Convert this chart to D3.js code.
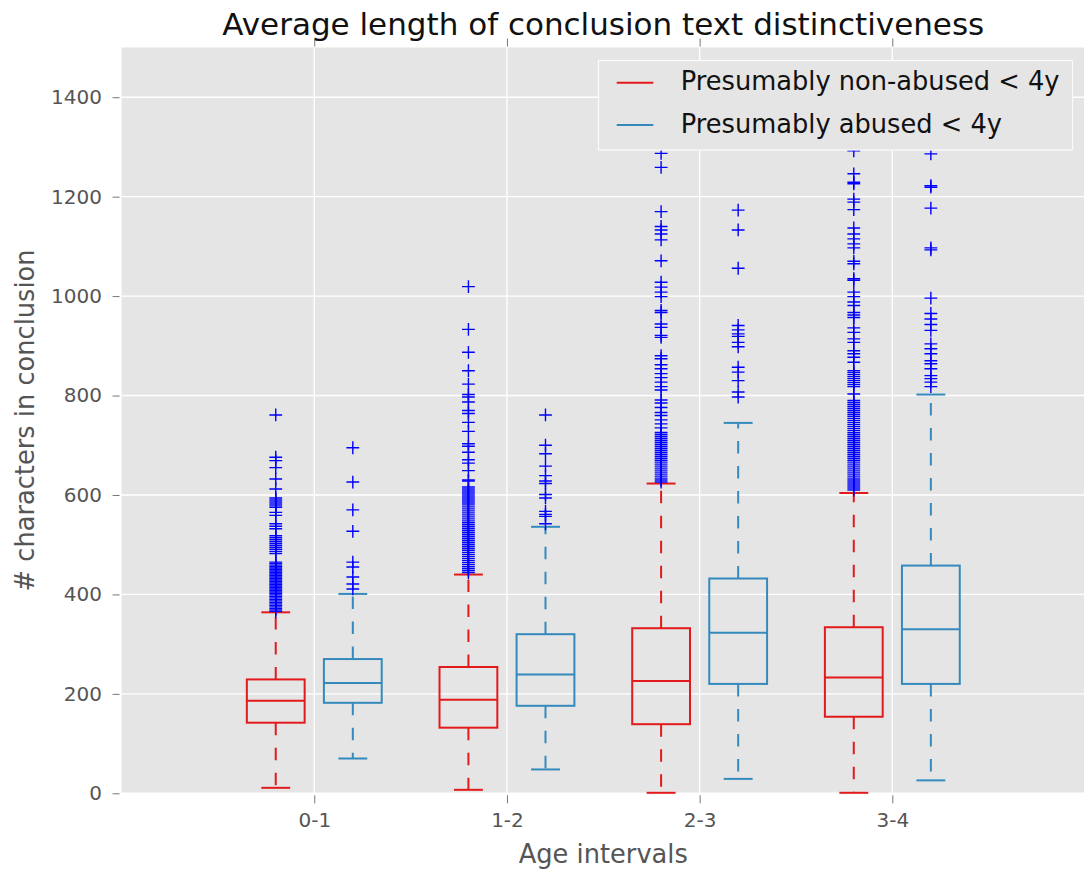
<!DOCTYPE html>
<html>
<head>
<meta charset="utf-8">
<script src="https://cdn.jsdelivr.net/npm/d3@7"></script>
<style>
    body { margin: 0; background: #fff; }
    svg text { font-family: "DejaVu Sans", sans-serif; }
</style>
</head>
<body>
<div id="chart"></div>
<script>

// Chart data
const categories = ["0-1", "1-2", "2-3", "3-4"];
const seriesNames = ["Presumably non-abused < 4y", "Presumably abused < 4y"];
const yTicks = [0, 200, 400, 600, 800, 1000, 1200, 1400];

// [lower whisker, Q1, median, Q3, upper whisker] per age interval
const nonAbusedBoxes = [
    [11, 142, 186, 229, 364],
    [7, 132, 188, 254, 440],
    [1, 139, 226, 332, 623],
    [1, 154, 233, 334, 604]
];
const abusedBoxes = [
    [70, 182, 222, 270, 401],
    [48, 176, 239, 320, 536],
    [29, 220, 323, 432, 745],
    [26, 220, 330, 458, 802]
];

// outliers
const nonAbusedFliers = [
    [761, 676, 669, 655, 632, 612, 594, 590, 586, 582, 578, 575, 565, 559, 542, 537, 532, 518, 514, 510,
        506, 502, 498, 494, 490, 486, 482, 465, 462, 459, 456, 453, 450, 447, 444, 441, 438, 435, 432, 429,
        426, 423, 420, 417, 414, 411, 408, 405, 402, 399, 396, 393, 390, 387, 384, 381, 378, 375, 372, 369, 366],
    [1019, 933, 887, 850, 823, 802, 797, 787, 770, 764, 746, 728, 703, 698, 686, 671, 664, 649, 630, 628,
        616, 612, 608, 604, 600, 596, 592, 588, 584, 580, 576, 572, 568, 564, 560, 556, 552, 548, 544, 540,
        536, 532, 528, 524, 520, 516, 512, 508, 504, 500, 496, 492, 488, 484, 480, 476, 472, 468, 464, 460,
        456, 452, 448, 444],
    [1287, 1259, 1170, 1140, 1133, 1125, 1113, 1071, 1028, 1018, 1008, 999, 971, 967, 944, 937, 921, 917,
        880, 874, 862, 854, 844, 836, 827, 818, 811, 791, 785, 776, 766, 760, 751, 743, 735, 726, 722, 718,
        714, 710, 706, 702, 698, 694, 690, 686, 682, 678, 674, 670, 666, 662, 658, 654, 650, 646, 642, 638,
        634, 630, 626],
    [1292, 1246, 1229, 1226, 1195, 1189, 1174, 1137, 1125, 1115, 1105, 1097, 1070, 1065, 1035, 1032, 1008,
        999, 988, 981, 967, 962, 957, 936, 927, 914, 907, 890, 884, 877, 867, 850, 846, 842, 838, 834, 830,
        826, 822, 818, 803, 790, 786, 782, 778, 774, 770, 766, 762, 758, 754, 750, 746, 742, 738, 734, 730,
        726, 722, 718, 714, 710, 706, 702, 698, 694, 690, 686, 682, 678, 674, 670, 666, 662, 658, 654, 650,
        646, 642, 638, 634, 630, 626, 622, 618, 614, 610]
];
const abusedFliers = [
    [695, 626, 570, 527, 465, 455, 435, 421, 411],
    [761, 700, 683, 658, 639, 628, 623, 601, 594, 567, 561, 557, 542],
    [1173, 1133, 1056, 941, 932, 924, 919, 907, 898, 857, 847, 830, 807, 797],
    [1286, 1222, 1219, 1177, 1097, 1093, 996, 965, 954, 943, 931, 904, 894, 884, 870, 864, 854, 840, 834,
        827, 818]
];

const seriesColors = ["#e31a1c", "#348abd"];


class BoxChart {

    constructor(_parentElement) {
        this.parentElement = _parentElement;
        this.initVis();
    }

    initVis() {
        let vis = this;

        vis.margin = { top: 47.5, right: -1, bottom: 75.7, left: 121.6 };
        vis.width = 1084 - vis.margin.left - vis.margin.right;
        vis.height = 869 - vis.margin.top - vis.margin.bottom;

        vis.root = d3.select("#" + vis.parentElement).append("svg")
            .attr("width", 1084)
            .attr("height", 869);

        vis.svg = vis.root.append("g")
            .attr("transform", "translate(" + vis.margin.left + "," + vis.margin.top + ")");

        // Scales: categories sit at 1..4, boxes at +/-0.2
        vis.x = d3.scaleLinear().domain([0, categories.length + 1]).range([0, vis.width]);
        vis.y = d3.scaleLinear().domain([0, 1500]).range([vis.height, 0]);

        // grey panel + white grid (ggplot look)
        vis.svg.append("rect")
            .attr("width", vis.width)
            .attr("height", vis.height)
            .attr("fill", "#e5e5e5");

        vis.svg.append("g").selectAll("line.hgrid")
            .data(yTicks)
            .join("line")
            .attr("x1", 0).attr("x2", vis.width)
            .attr("y1", d => vis.y(d)).attr("y2", d => vis.y(d))
            .attr("stroke", "#fff").attr("stroke-width", 1.4);

        vis.svg.append("g").selectAll("line.vgrid")
            .data(categories)
            .join("line")
            .attr("x1", (d, i) => vis.x(i + 1)).attr("x2", (d, i) => vis.x(i + 1))
            .attr("y1", 0).attr("y2", vis.height)
            .attr("stroke", "#fff").attr("stroke-width", 1.4);

        // Axes
        vis.xAxis = d3.axisBottom(vis.x)
            .tickValues(categories.map((d, i) => i + 1))
            .tickFormat((d) => categories[d - 1])
            .tickSize(8)
            .tickPadding(10);

        vis.xAxisTop = d3.axisTop(vis.x)
            .tickValues(categories.map((d, i) => i + 1))
            .tickFormat("")
            .tickSize(8);

        vis.yAxis = d3.axisLeft(vis.y)
            .tickValues(yTicks)
            .tickFormat(d3.format("d"))
            .tickSize(7)
            .tickPadding(10.6);

        vis.svg.append("g")
            .attr("class", "x-axis axis")
            .attr("transform", "translate(0," + (vis.height + 2) + ")");

        vis.svg.append("g")
            .attr("class", "x-axis-top axis")
            .attr("transform", "translate(0,-1)");

        vis.svg.append("g")
            .attr("class", "y-axis axis")
            .attr("transform", "translate(-2,0)");

        // Titles
        vis.root.append("text")
            .attr("x", vis.margin.left + vis.width / 2)
            .attr("y", 35)
            .attr("text-anchor", "middle")
            .attr("font-size", 31)
            .attr("fill", "#111")
            .text("Average length of conclusion text distinctiveness");

        vis.root.append("text")
            .attr("x", vis.margin.left + vis.width / 2)
            .attr("y", 863)
            .attr("text-anchor", "middle")
            .attr("font-size", 25.7)
            .attr("fill", "#555")
            .text("Age intervals");

        vis.root.append("text")
            .attr("transform", "translate(34," + (vis.margin.top + vis.height / 2) + ") rotate(-90)")
            .attr("text-anchor", "middle")
            .attr("font-size", 25.7)
            .attr("fill", "#555")
            .text("# characters in conclusion");

        vis.boxGroup = vis.svg.append("g").attr("class", "boxes");
        vis.legendGroup = vis.root.append("g").attr("class", "legend");

        vis.wrangleData();
    }

    wrangleData() {
        let vis = this;

        let boxes = [nonAbusedBoxes, abusedBoxes];
        let fliers = [nonAbusedFliers, abusedFliers];
        let offsets = [-0.2, 0.2];

        vis.displayData = [];
        boxes.forEach(function (series, s) {
            series.forEach(function (b, i) {
                vis.displayData.push({
                    series: s,
                    pos: i + 1 + offsets[s],
                    lo: b[0], q1: b[1], med: b[2], q3: b[3], hi: b[4],
                    fliers: fliers[s][i]
                });
            });
        });

        vis.updateVis();
    }

    updateVis() {
        let vis = this;
        let halfBox = 0.15, halfCap = 0.075;

        let g = vis.boxGroup.selectAll("g.box")
            .data(vis.displayData)
            .join("g")
            .attr("class", "box")
            .attr("stroke", d => seriesColors[d.series])
            .attr("stroke-width", 2)
            .attr("fill", "none");

        // whiskers start at the box and run to the caps
        g.append("line")
            .attr("x1", d => vis.x(d.pos)).attr("x2", d => vis.x(d.pos))
            .attr("y1", d => vis.y(d.q3)).attr("y2", d => vis.y(d.hi))
            .attr("stroke-dasharray", "12.5,12.5");
        g.append("line")
            .attr("x1", d => vis.x(d.pos)).attr("x2", d => vis.x(d.pos))
            .attr("y1", d => vis.y(d.q1)).attr("y2", d => vis.y(d.lo))
            .attr("stroke-dasharray", "12.5,12.5");

        // caps
        g.append("line")
            .attr("x1", d => vis.x(d.pos - halfCap)).attr("x2", d => vis.x(d.pos + halfCap))
            .attr("y1", d => vis.y(d.hi)).attr("y2", d => vis.y(d.hi));
        g.append("line")
            .attr("x1", d => vis.x(d.pos - halfCap)).attr("x2", d => vis.x(d.pos + halfCap))
            .attr("y1", d => vis.y(d.lo)).attr("y2", d => vis.y(d.lo));

        // box + median
        g.append("rect")
            .attr("x", d => vis.x(d.pos - halfBox))
            .attr("width", d => vis.x(d.pos + halfBox) - vis.x(d.pos - halfBox))
            .attr("y", d => vis.y(d.q3))
            .attr("height", d => vis.y(d.q1) - vis.y(d.q3));
        g.append("line")
            .attr("x1", d => vis.x(d.pos - halfBox)).attr("x2", d => vis.x(d.pos + halfBox))
            .attr("y1", d => vis.y(d.med)).attr("y2", d => vis.y(d.med));

        // fliers as blue '+'
        g.selectAll("path.flier")
            .data(d => d.fliers.map(v => ({ pos: d.pos, v: v })))
            .join("path")
            .attr("class", "flier")
            .attr("stroke", "#0000ff")
            .attr("stroke-width", 1.4)
            .attr("d", f => {
                let cx = vis.x(f.pos), cy = vis.y(f.v), r = 6.4;
                return "M" + (cx - r) + "," + cy + "H" + (cx + r) + "M" + cx + "," + (cy - r) + "V" + (cy + r);
            });

        // axes
        vis.svg.select(".x-axis").call(vis.xAxis);
        vis.svg.select(".x-axis-top").call(vis.xAxisTop);
        vis.svg.select(".y-axis").call(vis.yAxis);

        vis.svg.selectAll(".axis .domain").remove();
        vis.svg.selectAll(".axis .tick line").attr("stroke", "#777").attr("stroke-width", 1);
        vis.svg.selectAll(".axis .tick text")
            .attr("fill", "#555")
            .attr("font-size", 20)
            .attr("font-family", "DejaVu Sans, sans-serif");

        // legend (opaque, drawn over the fliers)
        vis.legendGroup.append("rect")
            .attr("x", 598.5).attr("y", 60.5)
            .attr("width", 474).attr("height", 89.5)
            .attr("fill", "#e5e5e5")
            .attr("stroke", "#fafafa")
            .attr("stroke-width", 1.2);

        let item = vis.legendGroup.selectAll("g.item")
            .data(seriesNames)
            .join("g")
            .attr("class", "item")
            .attr("transform", (d, i) => "translate(0," + (82.7 + i * 42.3) + ")");

        item.append("line")
            .attr("x1", 616.7).attr("x2", 653.3)
            .attr("stroke", (d, i) => seriesColors[i])
            .attr("stroke-width", 2);

        item.append("text")
            .attr("x", 680.7)
            .attr("y", 7.5)
            .attr("font-size", 25.7)
            .attr("fill", "#111")
            .text(d => d);
    }
}

new BoxChart("chart");

</script>
</body>
</html>
